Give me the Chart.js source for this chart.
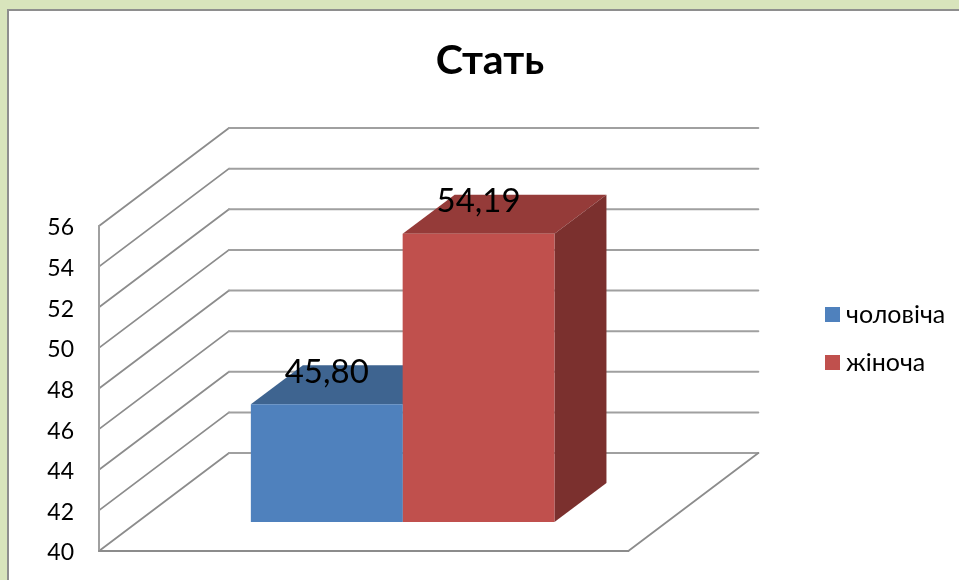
<!DOCTYPE html>
<html><head><meta charset="utf-8">
<script src="https://cdn.jsdelivr.net/npm/chart.js@4"></script>
<style>
html,body{margin:0;padding:0;background:#d8e4bc;overflow:hidden}
#panel{position:absolute;left:7px;top:9px;width:1000px;height:620px;background:#fff;border:2px solid #8e8e8e;box-sizing:border-box}
canvas{position:absolute;left:0;top:0}
</style></head><body>
<div id="panel"></div>
<canvas id="c" width="959" height="580"></canvas>
<script>
const chartTitle = "Стать";
const categories = ["Стать"];
const seriesNames = ["чоловіча", "жіноча"];
const maleValues = [45.80];
const femaleValues = [54.19];
const frontColors = ["#4f81bd", "#c0504d"];
const topColors = ["#3e6490", "#953b39"];
const sideColors = ["#325173", "#7b302e"];
const yTicksMin = 40, yTicksMax = 56, yTicksStep = 2;
const FONT = "Lato, 'Open Sans', sans-serif";

const wall = {dx: 130, dy: -98};
const barShift = {dx: 39, dy: -29};
const barDepth = {dx: 52, dy: -39};

function swatch(color){
  const s = document.createElement('canvas');
  s.width = 15; s.height = 15;
  const g = s.getContext('2d');
  g.fillStyle = color; g.fillRect(0,0,15,15);
  return s;
}
const swatches = frontColors.map(swatch);

function poly(ctx, pts, fill){
  ctx.beginPath();
  pts.forEach((p,i)=> i ? ctx.lineTo(p[0],p[1]) : ctx.moveTo(p[0],p[1]));
  ctx.closePath();
  ctx.fillStyle = fill; ctx.fill();
}

const scene3d = {
  id: 'scene3d',
  afterLayout(chart){
    const l = chart.legend;
    const w = l.right - l.left, h = l.bottom - l.top;
    l.left = 808.5; l.right = l.left + w;
    l.top = 279; l.bottom = l.top + h;
    chart.titleBlock.left = 0;
    chart.titleBlock.right = 980;
  },
  beforeDatasetsDraw(chart){
    const {ctx, chartArea:a, scales:{y}} = chart;
    ctx.save();
    ctx.lineCap = 'round';
    y.ticks.forEach(t=>{
      const py = y.getPixelForValue(t.value);
      ctx.strokeStyle = '#8c8c8c';
      ctx.lineWidth = 1.8;
      ctx.beginPath();
      ctx.moveTo(a.left, py);
      ctx.lineTo(a.left + wall.dx, py + wall.dy);
      ctx.stroke();
      ctx.lineWidth = 2;
      ctx.strokeStyle = '#a0a0a0';
      ctx.beginPath();
      ctx.moveTo(a.left + wall.dx, py + wall.dy);
      ctx.lineTo(a.right + wall.dx, py + wall.dy);
      ctx.stroke();
    });
    ctx.lineWidth = 2;
    ctx.strokeStyle = '#a0a0a0';
    ctx.beginPath();
    ctx.moveTo(a.left, a.top);
    ctx.lineTo(a.left, a.bottom);
    ctx.stroke();
    ctx.strokeStyle = '#8c8c8c';
    ctx.beginPath();
    ctx.moveTo(a.left, a.bottom);
    ctx.lineTo(a.right, a.bottom);
    ctx.stroke();
    ctx.lineWidth = 1.8;
    ctx.beginPath();
    ctx.moveTo(a.right, a.bottom);
    ctx.lineTo(a.right + wall.dx, a.bottom + wall.dy);
    ctx.stroke();
    ctx.restore();
    ctx.save();
    ctx.translate(barShift.dx, barShift.dy);
    chart.data.datasets.forEach((ds,i)=>{
      const bar = chart.getDatasetMeta(i).data[0];
      const p = bar.getProps(['x','y','base','width'], true);
      const x0 = p.x - p.width/2, x1 = p.x + p.width/2;
      poly(ctx, [[x0,p.y],[x1,p.y],[x1+barDepth.dx,p.y+barDepth.dy],[x0+barDepth.dx,p.y+barDepth.dy]], topColors[i]);
      poly(ctx, [[x1,p.y],[x1+barDepth.dx,p.y+barDepth.dy],[x1+barDepth.dx,p.base+barDepth.dy],[x1,p.base]], sideColors[i]);
    });
    ctx.restore();
    ctx.save();
    ctx.translate(barShift.dx, barShift.dy);
  },
  afterDatasetsDraw(chart){
    const ctx = chart.ctx;
    ctx.restore();
    ctx.save();
    ctx.font = "33px " + FONT;
    ctx.fillStyle = '#000';
    ctx.textAlign = 'center';
    ctx.textBaseline = 'middle';
    chart.data.datasets.forEach((ds,i)=>{
      const bar = chart.getDatasetMeta(i).data[0];
      const p = bar.getProps(['x','y'], true);
      ctx.fillText(ds.data[0].toFixed(2).replace('.', ','), p.x + barShift.dx, p.y + barShift.dy - 32);
    });
    ctx.restore();
  }
};

new Chart(document.getElementById('c'), {
  type: 'bar',
  plugins: [scene3d],
  data: {
    labels: categories,
    datasets: [
      {label: seriesNames[0], data: maleValues, backgroundColor: frontColors[0], clip: false, base: yTicksMin},
      {label: seriesNames[1], data: femaleValues, backgroundColor: frontColors[1], clip: false, base: yTicksMin}
    ]
  },
  options: {
    responsive: false,
    animation: false,
    events: [],
    layout: {padding: {left: 39, right: 184, top: 0, bottom: 29}},
    datasets: {bar: {categoryPercentage: 304/530, barPercentage: 1}},
    scales: {
      x: {display: false},
      y: {
        min: yTicksMin, max: yTicksMax,
        afterFit(s){ s.width = 60; s.paddingTop = 0; s.paddingBottom = 0; },
        border: {display: false},
        grid: {display: false, drawTicks: false},
        ticks: {stepSize: yTicksStep, padding: 25, labelOffset: 2, color: '#000', font: {family: FONT, size: 23}}
      }
    },
    plugins: {
      title: {
        display: true, text: chartTitle, color: '#000',
        font: {family: FONT, size: 41, weight: 'bold'},
        padding: {top: 36, bottom: 140.8}
      },
      legend: {
        position: 'right',
        align: 'start',
        labels: {
          color: '#000',
          font: {family: FONT, size: 25},
          usePointStyle: true,
          boxWidth: 2,
          boxHeight: 15,
          padding: 23,
          generateLabels(chart){
            return Chart.defaults.plugins.legend.labels.generateLabels(chart).map((it,i)=>{
              it.pointStyle = swatches[i];
              it.lineWidth = 0;
              return it;
            });
          }
        }
      },
      tooltip: {enabled: false}
    }
  }
});
</script>
</body></html>
